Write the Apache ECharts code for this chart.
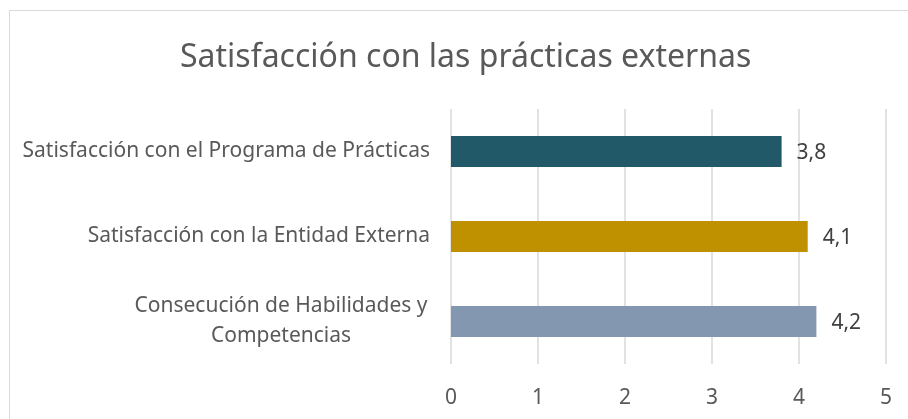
<!DOCTYPE html>
<html>
<head>
<meta charset="utf-8">
<script src="https://cdn.jsdelivr.net/npm/echarts@6/dist/echarts.min.js"></script>
<style>
  html, body { margin: 0; padding: 0; background: #fff; }
  #chart { width: 908px; height: 419px; }
</style>
</head>
<body>
<div id="chart"></div>
<script>
var categories = [
    'Satisfacción con el Programa de Prácticas',
    'Satisfacción con la Entidad Externa',
    'Consecución de Habilidades y\nCompetencias'
];
var values = [3.8, 4.1, 4.2];
var barColors = ['#215968', '#BF9000', '#8497B0'];
var tickMin = 0, tickMax = 5, tickStep = 1;

var myChart = echarts.init(document.getElementById('chart'));
var fontName = 'Noto Sans';

var data = [];
for (var i = 0; i < values.length; i++) {
    data.push({ value: values[i], itemStyle: { color: barColors[i] } });
}

var option = {
    backgroundColor: '#fff',
    animation: false,
    title: {
        text: 'Satisfacción con las prácticas externas',
        left: 175,
        top: 37,
        textStyle: { fontFamily: fontName, fontSize: 32, fontWeight: 'normal', color: '#595959' }
    },
    graphic: [{
        type: 'rect',
        shape: { x: 9.5, y: 10.5, width: 1000, height: 1000 },
        style: { fill: 'none', stroke: '#d9d9d9', lineWidth: 1 },
        silent: true
    }],
    grid: { left: 451, right: 22, top: 109, bottom: 55 },
    xAxis: {
        type: 'value',
        min: tickMin,
        max: tickMax,
        interval: tickStep,
        axisLine: { show: false },
        axisTick: { show: false },
        splitLine: { lineStyle: { color: '#d9d9d9', width: 1.5 } },
        axisLabel: { fontFamily: fontName, fontSize: 21, color: '#595959', margin: 24 }
    },
    yAxis: {
        type: 'category',
        inverse: true,
        data: categories,
        axisLine: { show: false },
        axisTick: { show: false },
        axisLabel: {
            fontFamily: fontName,
            fontSize: 21,
            color: '#595959',
            margin: 21,
            lineHeight: 30,
            formatter: function (v) {
                if (v.indexOf('\n') >= 0) {
                    return v.split('\n').map(function (s) { return '{c|' + s + '}'; }).join('\n');
                }
                return v;
            },
            rich: {
                c: { width: 298, align: 'center', fontFamily: fontName, fontSize: 21, color: '#595959', lineHeight: 30 }
            }
        }
    },
    series: [{
        type: 'bar',
        data: data,
        barWidth: '36.5%',
        label: {
            show: true,
            position: 'right',
            distance: 15,
            offset: [0, 2],
            fontFamily: fontName,
            fontSize: 21,
            color: '#404040',
            formatter: function (p) { return String(p.value).replace('.', ','); }
        }
    }]
};
myChart.setOption(option);
window.addEventListener('resize', function () {
    myChart.resize();
});
</script>
</body>
</html>
